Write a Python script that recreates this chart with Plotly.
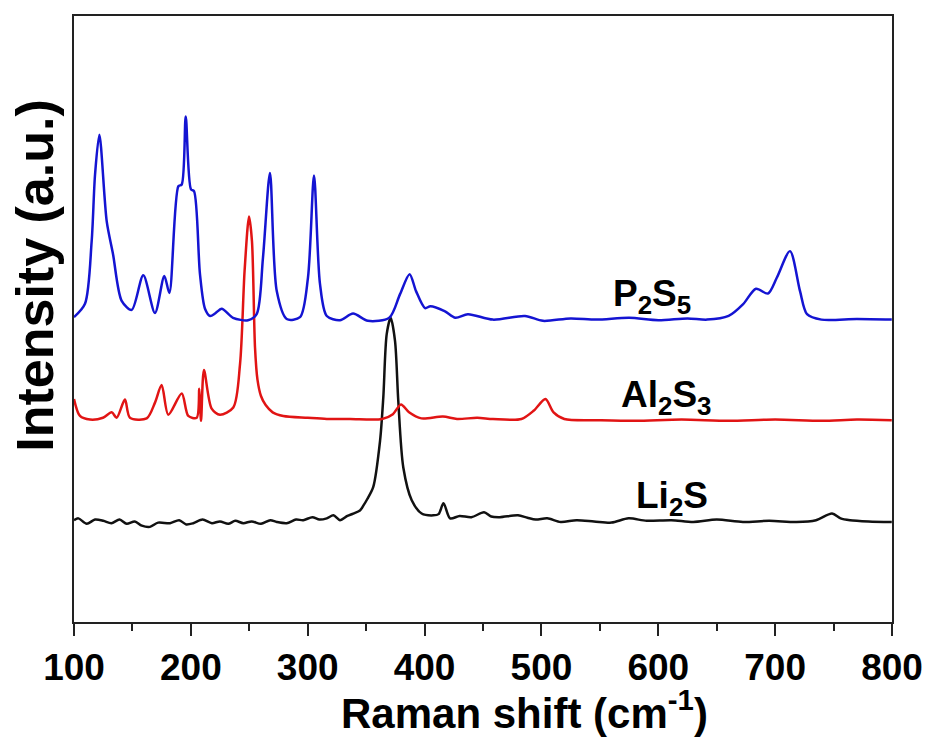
import plotly.graph_objects as go

# Raman shift (cm-1) and intensity (a.u., offset)
p2s5_x = [100, 109.4, 115.1, 118.0, 121.7, 128.0, 133.4, 140.8, 149.4, 159.3, 169.3, 177.3, 181.6,
          189.3, 192.2, 195.6, 200.1, 202.7, 207.8, 212.1, 216.5, 220.7, 226.4, 236.1, 248.9, 256.3,
          261.7, 267.7, 273.5, 282.0, 293.4, 300.2, 305.4, 310.5, 316.3, 327.6, 338.8, 351.5, 369.8,
          379.0, 387.2, 392.7, 400.4, 405.0, 417.1, 426.4, 437.1, 458.5, 485.9, 501.3, 525.0, 547.0,
          575.0, 600.0, 625.0, 641.7, 660.2, 672.4, 683.6, 693.8, 701.4, 712.7, 721.3, 727.3, 739.6,
          770.0, 799.8]
p2s5_y = [50.3, 52.5, 62.8, 73.8, 80.4, 66.1, 60.7, 53.0, 51.5, 57.2, 51.0, 57.1, 54.3,
          71.9, 72.2, 83.4, 71.4, 71.1, 57.4, 51.7, 50.5, 50.9, 51.7, 50.2, 49.8, 50.8,
          60.1, 74.1, 54.6, 50.0, 50.3, 56.8, 73.7, 55.8, 50.5, 49.8, 50.9, 49.7, 50.2,
          54.1, 57.4, 54.6, 51.8, 52.1, 51.3, 50.2, 50.8, 49.9, 50.5, 49.7, 50.1, 49.9,
          50.2, 49.8, 50.1, 49.9, 50.5, 52.4, 55.0, 54.2, 56.8, 61.2, 54.6, 50.8, 49.9,
          50.0, 49.9]

al2s3_x = [100, 105.1, 113.7, 124.8, 132.3, 136.5, 143.6, 147.9, 162.2, 169.3, 175.0, 180.7, 192.2,
           197.8, 205.0, 207.2, 208.7, 211.2, 217.8, 224.9, 236.3, 242.1, 246.0, 249.8, 252.3, 254.9,
           257.0, 260.0, 264.0, 270.0, 279.1, 300.0, 316.3, 336.2, 363.6, 372.9, 379.8, 386.7, 397.3,
           415.7, 427.8, 445.0, 458.5, 482.9, 493.6, 503.4, 510.4, 519.6, 550.0, 580.7, 620.0, 660.0,
           700.0, 740.0, 770.0, 799.8]
al2s3_y = [36.8, 34.0, 33.4, 33.7, 34.6, 33.7, 36.7, 33.7, 33.6, 36.2, 39.1, 34.2, 37.7,
           34.0, 33.7, 38.5, 33.2, 41.6, 35.2, 34.2, 35.4, 42.6, 58.0, 66.9, 62.8, 45.3,
           40.0, 37.3, 35.8, 34.6, 34.0, 33.7, 33.5, 33.5, 33.5, 34.3, 35.9, 34.6, 33.6,
           33.9, 33.5, 33.7, 33.5, 33.5, 34.9, 36.8, 34.6, 33.5, 33.3, 33.2, 33.4, 33.2,
           33.4, 33.2, 33.4, 33.3]

li2s_x = [100, 103.7, 110.9, 118.0, 125.1, 132.0, 139.0, 145.1, 152.0, 158.0, 165.0, 172.0, 182.2,
          190.0, 196.0, 202.1, 210.0, 218.0, 224.9, 232.0, 238.0, 244.9, 252.0, 260.0, 268.0, 273.5,
          282.0, 290.0, 296.2, 304.0, 310.0, 316.3, 322.0, 327.6, 334.0, 339.0, 344.7, 347.6, 351.0,
          356.1, 361.9, 364.7, 367.6, 371.0, 374.7, 377.5, 381.8, 389.0, 397.5, 407.5, 412.0, 416.2,
          421.8, 430.0, 440.1, 450.9, 457.0, 464.5, 479.9, 488.0, 495.1, 505.0, 516.5, 530.0, 545.0,
          560.0, 574.6, 590.0, 611.2, 630.0, 650.0, 672.4, 695.0, 718.2, 735.0, 748.7, 756.0, 764.1,
          780.0, 799.8]
li2s_y = [16.8, 17.1, 16.2, 16.9, 16.7, 16.3, 16.9, 16.2, 16.6, 15.9, 15.7, 16.4, 16.3,
          16.8, 16.1, 16.3, 16.9, 16.3, 16.6, 16.2, 16.7, 16.3, 16.6, 16.2, 16.8, 16.5,
          16.3, 16.9, 16.8, 17.3, 16.9, 17.1, 17.6, 16.8, 17.5, 17.9, 18.4, 19.2, 20.3,
          22.3, 29.9, 37.1, 47.5, 50.2, 46.4, 36.5, 25.5, 20.1, 17.9, 17.6, 17.8, 19.6,
          17.1, 17.5, 17.3, 18.1, 17.4, 17.3, 17.6, 17.2, 16.9, 17.1, 16.5, 16.8, 16.6,
          16.4, 17.1, 16.7, 16.8, 16.5, 16.9, 16.5, 16.7, 16.5, 16.8, 17.9, 17.1, 16.8,
          16.6, 16.5]

series_names = ["P<sub>2</sub>S<sub>5</sub>", "Al<sub>2</sub>S<sub>3</sub>", "Li<sub>2</sub>S"]
tick_vals = [100, 200, 300, 400, 500, 600, 700, 800]

fig = go.Figure()
for xs, ys, col, nm in [(li2s_x, li2s_y, "#111111", series_names[2]),
                        (al2s3_x, al2s3_y, "rgb(225,20,20)", series_names[1]),
                        (p2s5_x, p2s5_y, "rgb(20,20,210)", series_names[0])]:
    fig.add_trace(go.Scatter(x=xs, y=ys, mode="lines", name=nm,
                             line=dict(color=col, width=2.5, shape="spline", smoothing=0.8)))

fam = "Liberation Sans, Arial, sans-serif"
label_font = dict(family=fam, size=37, color="black", weight="bold")

fig.update_layout(
    width=922, height=732,
    margin=dict(l=66, r=38, t=6, b=118),
    paper_bgcolor="white", plot_bgcolor="white",
    showlegend=False,
    xaxis=dict(range=[100, 800], tickvals=tick_vals, ticks="outside", ticklen=12, tickwidth=2,
               tickcolor="#222", showline=True, linecolor="#222", linewidth=2, mirror=True,
               showgrid=False, zeroline=False,
               tickfont=dict(family=fam, size=37, color="black", weight="bold"),
               minor=dict(tickvals=[150, 250, 350, 450, 550, 650, 750], ticks="outside",
                          ticklen=7, tickwidth=2, tickcolor="#222", showgrid=False)),
    yaxis=dict(range=[0, 100], showticklabels=False, ticks="", showline=True, linecolor="#222",
               linewidth=2, mirror=True, showgrid=False, zeroline=False),
    annotations=[
        dict(x=595, y=53.8, xref="x", yref="y", text=series_names[0], showarrow=False,
             font=label_font),
        dict(x=607, y=37.2, xref="x", yref="y", text=series_names[1], showarrow=False,
             font=label_font),
        dict(x=612, y=20.5, xref="x", yref="y", text=series_names[2], showarrow=False,
             font=label_font),
        dict(x=0.551, y=-0.145, xref="paper", yref="paper", text="Raman shift (cm<sup>-1</sup>)",
             showarrow=False, xanchor="center", yanchor="middle",
             font=dict(family=fam, size=42, color="black", weight="bold")),
        dict(x=-0.048, y=0.571, xref="paper", yref="paper", text="Intensity (a.u.)",
             showarrow=False, textangle=-90, xanchor="center", yanchor="middle",
             font=dict(family=fam, size=52, color="black", weight="bold")),
    ],
)

fig.write_html("out.html")
